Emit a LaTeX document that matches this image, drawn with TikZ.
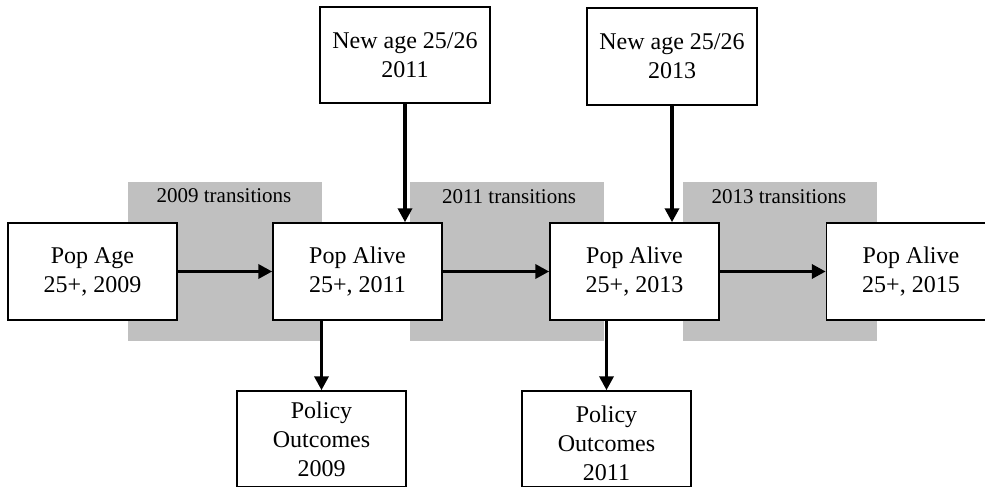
\documentclass[tikz,border=0pt]{standalone}
\usepackage{fontspec}
\setmainfont{Liberation Serif}
\usetikzlibrary{arrows.meta}
\definecolor{BandGray}{RGB}{192,192,192}

\begin{document}
\begin{tikzpicture}[x=0.5pt, y=-0.5pt,
  every node/.style={align=center, font=\fontsize{12}{14.5}\selectfont},
  popbox/.style={draw, line width=0.75pt, fill=white, inner sep=0pt,
                 minimum width=84.5pt, minimum height=48.5pt},
  bandlabel/.style={font=\fontsize{10.5}{12}\selectfont},
  flow/.style={line width=1.9pt, -{Triangle[length=7pt,width=7pt]}}]
  \useasboundingbox (0,0) rectangle (985,487);
  \clip (0,0) rectangle (985,487);
  % transition bands
  \fill[BandGray] (128,182) rectangle (322,341);
  \fill[BandGray] (410,182) rectangle (604,341);
  \fill[BandGray] (683,182) rectangle (877,341);
  \node[bandlabel] (lab09) at (224,196) {2009 transitions};
  \node[bandlabel] (lab11) at (509,197) {2011 transitions};
  \node[bandlabel] (lab13) at (779,197) {2013 transitions};
  % population boxes
  \node[popbox] (pA) at (92.5,271.5) {Pop Age\\25+, 2009};
  \node[popbox] (pB) at (357.5,271.5) {Pop Alive\\25+, 2011};
  \node[popbox] (pC) at (634.5,271.5) {Pop Alive\\25+, 2013};
  \node[popbox] (pD) at (911,271.5) {Pop Alive\\25+, 2015};
  % new entrants
  \node[popbox, minimum width=85pt, minimum height=48pt] (new11) at (405,55) {New age 25/26\\2011};
  \node[popbox, minimum width=85pt, minimum height=48.5pt] (new13) at (672,56.5) {New age 25/26\\2013};
  % outcomes
  \node[popbox, minimum height=48pt] (pol09) at (321.5,439) {Policy\\Outcomes\\2009};
  \node[popbox, minimum height=48pt] (pol11) at (606.5,439) {\rule{0pt}{12.5pt}Policy\\Outcomes\\2011};
  \draw[flow] (pA) -- (pB);
  \draw[flow] (pB) -- (pC);
  \draw[flow] (pC) -- (pD);
  \draw[flow] (new11.south) -- (new11.south |- pB.north);
  \draw[flow] (new13.south) -- (new13.south |- pC.north);
  \draw[flow] (pB.south -| pol09.north) -- (pol09.north);
  \draw[flow] (pC.south -| pol11.north) -- (pol11.north);
\end{tikzpicture}
\end{document}
